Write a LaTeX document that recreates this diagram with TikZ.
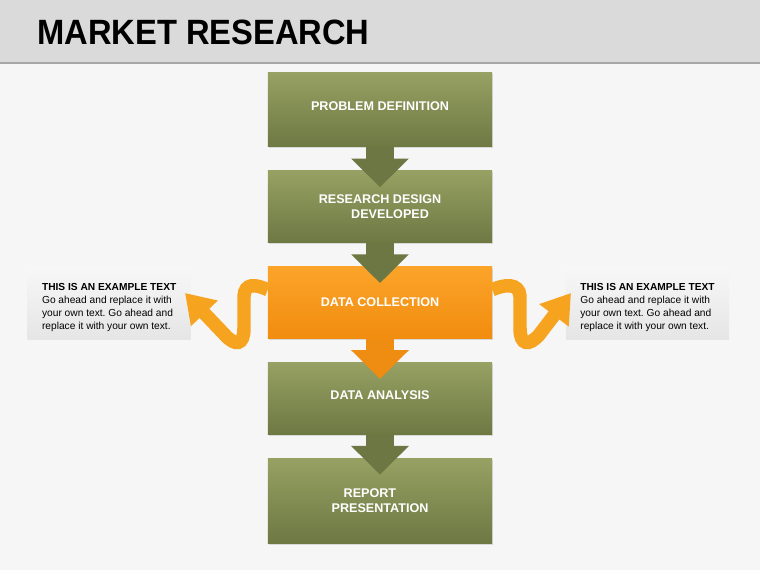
\documentclass[tikz,border=0pt]{standalone}
\usepackage{fontspec}
\setmainfont{Liberation Sans}
\frenchspacing
\usetikzlibrary{arrows.meta,positioning,shadows}
\definecolor{Olive}{HTML}{97A163}
\definecolor{OliveDark}{HTML}{6D7843}
\definecolor{OliveArrow}{HTML}{6C7743}
\definecolor{Amber}{HTML}{FBA42A}
\definecolor{AmberDark}{HTML}{F18C0E}
\definecolor{AmberArrow}{HTML}{EF8C12}
\definecolor{Ribbon}{HTML}{F6A420}
\definecolor{Band}{HTML}{DADADA}
\definecolor{Page}{HTML}{F6F6F6}

\begin{document}
\begin{tikzpicture}[x=0.03cm,y=-0.03cm,>=Latex,node distance=0.7cm,
  font=\fontsize{10.75}{13}\selectfont\bfseries,
  stage/.style={minimum width=6.72cm,text=white,align=center,inner sep=0pt,
    top color=Olive,bottom color=OliveDark,
    drop shadow={opacity=0.25,shadow xshift=0.8pt,shadow yshift=-1.2pt}},
  hot/.style={stage,top color=Amber,bottom color=AmberDark},
  sidebox/.style={minimum width=4.9cm,minimum height=2.19cm,inner sep=0pt,
    align=left,top color=gray!6,bottom color=gray!20,
    font=\fontsize{8.7}{11.1}\selectfont},
  flow/.style={OliveArrow,line width=23.9pt,-{Triangle[width=47.8pt,length=24.5pt]}},
  ribbon/.style={Ribbon,line width=11.5pt,-{Triangle[width=30pt,length=24pt]}}]
  \useasboundingbox (0,0) rectangle (760,570);
  \fill[Page] (0,0) rectangle (760,570);
  % header band
  \fill[Band] (0,0) rectangle (760,62);
  \fill[gray!70] (0,62) rectangle (760,64);
  \node[anchor=base west,inner sep=0pt,xscale=0.93,
    font=\fontsize{30}{30}\selectfont\bfseries] (title) at (37,45) {MARKET RESEARCH};
  % steps
  \node[stage,minimum height=2.22cm] (pd) at (380,110) {PROBLEM DEFINITION\\[-6pt]};
  \node[stage,minimum height=2.16cm,below=of pd] (rd) {RESEARCH DESIGN\\\hspace*{1.6em}DEVELOPED};
  \node[hot,minimum height=2.16cm,below=of rd] (dc) {DATA COLLECTION};
  \node[stage,minimum height=2.16cm,below=of dc] (da) {DATA ANALYSIS\\[-8pt]};
  \node[stage,minimum height=2.55cm,below=of da] (rp) {REPORT\hspace*{1.6em}\\PRESENTATION};
  \coordinate[below=0.5cm of rd.north] (t1);
  \coordinate[below=0.5cm of dc.north] (t2);
  \coordinate[below=0.5cm of da.north] (t3);
  \coordinate[below=0.5cm of rp.north] (t4);
  \draw[flow] (pd.south) -- (t1);
  \draw[flow] (rd.south) -- (t2);
  \draw[flow,AmberArrow] (dc.south) -- (t3);
  \draw[flow] (da.south) -- (t4);
  % side notes
  \node[sidebox,left=2.3cm of dc] (noteL) {\rule{0pt}{14pt}\textbf{THIS IS AN EXAMPLE TEXT}\\Go ahead and replace it with\\your own text. Go ahead and\\replace it with your own text.};
  \node[sidebox,right=2.2cm of dc] (noteR) {\rule{0pt}{14pt}\textbf{THIS IS AN EXAMPLE TEXT}\\Go ahead and replace it with\\your own text. Go ahead and\\replace it with your own text.};
  % ribbons
  \coordinate[below=0.7cm of dc.north west] (l0);
  \coordinate[below=0.7cm of dc.north east] (r0);
  \coordinate (lt) at (185,293);
  \coordinate (rt) at (571,293);
  \draw[ribbon] (l0) .. controls (255,284) and (245,283) .. (244,296) -- (244,328)
    .. controls (244,346) and (235,346) .. (225,335) -- (lt);
  \draw[ribbon] (r0) .. controls (505,284) and (519,283) .. (520,296) -- (520,328)
    .. controls (520,346) and (529,346) .. (539,335) -- (rt);
\end{tikzpicture}
\end{document}
